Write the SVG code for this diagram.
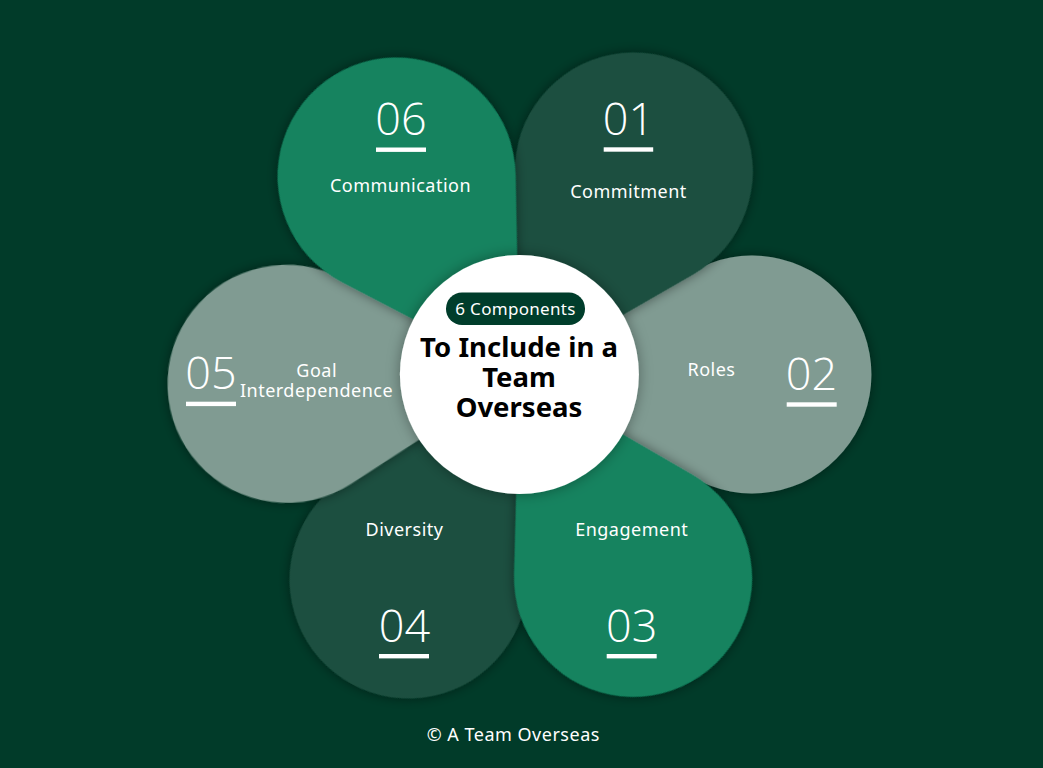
<svg xmlns="http://www.w3.org/2000/svg" xmlns:xlink="http://www.w3.org/1999/xlink" width="1043" height="768" viewBox="0 0 1043 768">
  <style>
    .num { font-family: "Open Sans", "Noto Sans", "Liberation Sans", sans-serif; font-weight: 300; font-size: 45px; fill: #ffffff; text-anchor: middle; }
    .lbl { font-family: "Noto Sans", "Open Sans", "Liberation Sans", sans-serif; font-size: 18px; fill: #ffffff; text-anchor: middle; letter-spacing: 0.5px; }
    .bar { fill: #ffffff; }
    .title { font-family: "Noto Sans", "Liberation Sans", sans-serif; font-weight: 700; font-size: 27.5px; fill: #000000; text-anchor: middle; }
    .pilltxt { font-family: "Noto Sans", "Liberation Sans", sans-serif; font-size: 17px; fill: #ffffff; text-anchor: middle; letter-spacing: 0.3px; }
    .foot { font-family: "Noto Sans", "Liberation Sans", sans-serif; font-size: 18px; fill: #ffffff; text-anchor: middle; letter-spacing: 0.5px; }
    .dark { fill: #1e4f40; }
    .mid { fill: #13835f; }
    .grey { fill: #809b92; }
  </style>
  <defs>
    <path id="petal" d="M0,0 L172.24,-102.31 A119,119 0 1,1 172.24,102.31 Z"/>
    <filter id="shadow" x="-20%" y="-20%" width="140%" height="140%">
      <feDropShadow dx="0" dy="0" stdDeviation="6" flood-color="#000000" flood-opacity="0.45"/>
    </filter>
    <filter id="cshadow" x="-20%" y="-20%" width="140%" height="140%">
      <feDropShadow dx="0" dy="0" stdDeviation="7" flood-color="#000000" flood-opacity="0.35"/>
    </filter>
  </defs>

  <rect x="0" y="0" width="1043" height="768" fill="#013b29"/>

  <g id="node-02">
    <use xlink:href="#petal" href="#petal" class="grey" filter="url(#shadow)" transform="translate(519.4,374.5) rotate(0)"/>
    <text class="lbl" x="711.5" y="375.5">Roles</text>
    <text class="num" x="811.5" y="390">02</text>
    <rect class="bar" x="786.7" y="402.3" width="50" height="4.4"/>
  </g>

  <g id="node-04">
    <use xlink:href="#petal" href="#petal" class="dark" filter="url(#shadow)" transform="translate(519.4,374.5) rotate(118.4)"/>
    <text class="lbl" x="404.5" y="536">Diversity</text>
    <text class="num" x="404.5" y="641.7">04</text>
    <rect class="bar" x="379" y="654" width="50" height="4.4"/>
  </g>

  <g id="node-01">
    <use xlink:href="#petal" href="#petal" class="dark" filter="url(#shadow)" transform="translate(519.4,374.5) rotate(-60.6)"/>
    <text class="num" x="628.5" y="135">01</text>
    <rect class="bar" x="603.7" y="147.3" width="49.5" height="4.4"/>
    <text class="lbl" x="628.5" y="198">Commitment</text>
  </g>

  <g id="node-05">
    <use xlink:href="#petal" href="#petal" class="grey" filter="url(#shadow)" transform="translate(519.4,374.5) rotate(177.7)"/>
    <text class="num" x="211" y="389">05</text>
    <rect class="bar" x="186" y="401.7" width="50" height="4.4"/>
    <text class="lbl" x="316.7" y="376.5">Goal</text>
    <text class="lbl" x="316.5" y="396.5">Interdependence</text>
  </g>

  <g id="node-03">
    <use xlink:href="#petal" href="#petal" class="mid" filter="url(#shadow)" transform="translate(519.4,374.5) rotate(60.8)"/>
    <text class="lbl" x="631.7" y="536">Engagement</text>
    <text class="num" x="631.7" y="641.7">03</text>
    <rect class="bar" x="606.7" y="654" width="50" height="4.4"/>
  </g>

  <g id="node-06">
    <use xlink:href="#petal" href="#petal" class="mid" filter="url(#shadow)" transform="translate(519.4,374.5) rotate(-121.8)"/>
    <text class="num" x="401" y="134.5">06</text>
    <rect class="bar" x="376" y="147.5" width="50" height="4.4"/>
    <text class="lbl" x="400.5" y="191.5">Communication</text>
  </g>

  <g id="node-center">
    <circle cx="519.4" cy="374.5" r="119.5" fill="#ffffff" filter="url(#cshadow)"/>
    <rect x="446" y="292.5" width="139" height="32.5" rx="16" ry="16" fill="#003d2b"/>
    <text class="pilltxt" x="515.5" y="315">6 Components</text>
    <text class="title" x="519" y="357">To Include in a</text>
    <text class="title" x="519" y="387">Team</text>
    <text class="title" x="519" y="417">Overseas</text>
  </g>

  <g id="footer">
    <text class="foot" x="513.3" y="740.5">© A Team Overseas</text>
  </g>
</svg>
